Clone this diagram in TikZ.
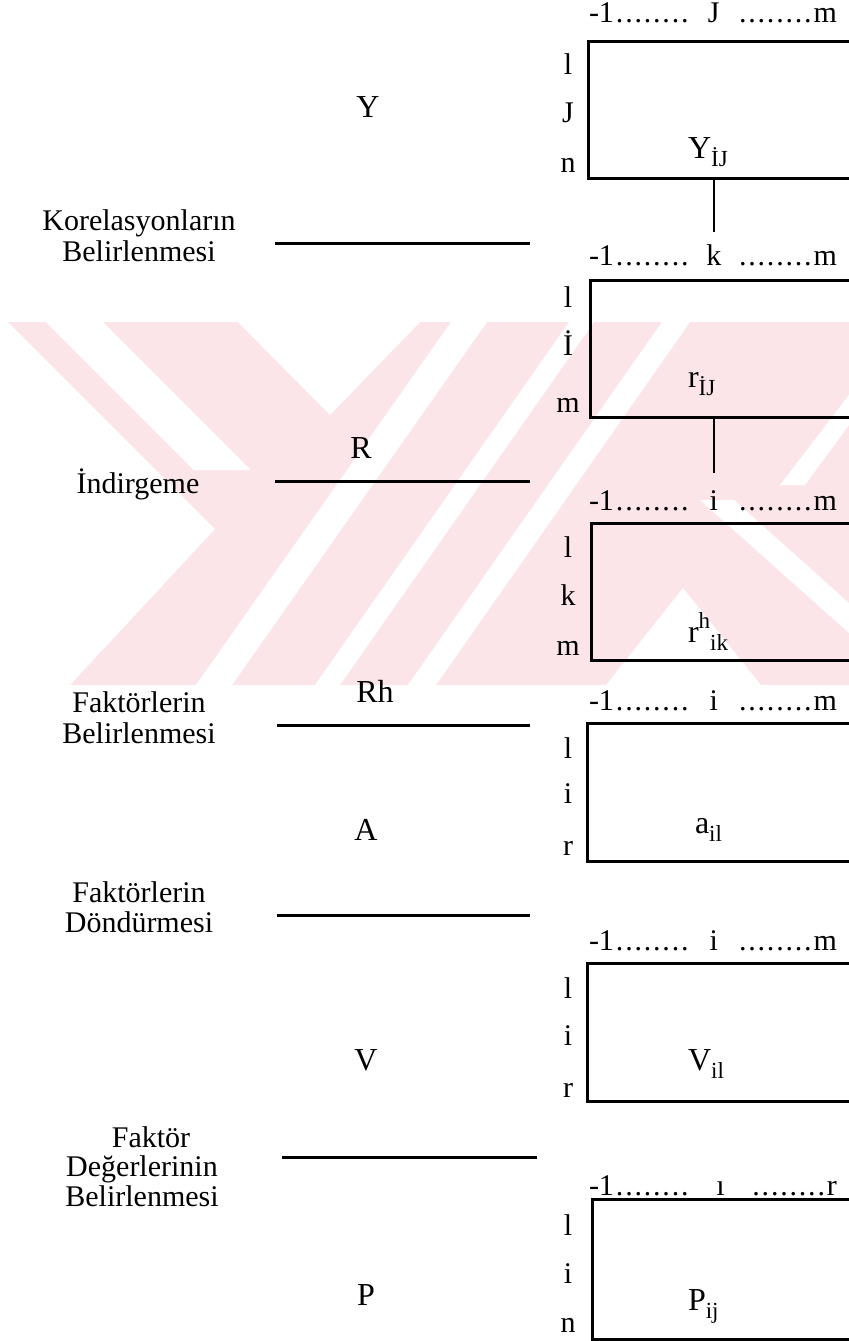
\documentclass[tikz,border=0pt]{standalone}
\usepackage{fontspec}
\setmainfont{Liberation Serif}
\definecolor{wm}{RGB}{252,229,233}
\newcommand\mysub[1]{\raisebox{-0.55ex}{\fontsize{11.5}{11.5}\selectfont #1}}
\newcommand\mysup[1]{\raisebox{0.95ex}{\fontsize{11.5}{11.5}\selectfont #1}}
\newcommand\mydd{.\kern0.9pt}
\newcommand\mydots{\mydd\mydd\mydd\mydd\mydd\mydd\mydd.}
\newcommand\hdrtxt[2]{\makebox[124pt]{-1\kern1pt\mydots\hfill #1\hfill\mydots\kern1pt#2}}
\begin{document}
\begin{tikzpicture}[x=0.5pt,y=-0.5pt,
  every node/.style={inner sep=0pt,outer sep=0pt,font=\fontsize{15}{16}\selectfont},
  mbox/.style={draw,line width=1.5pt,minimum width=140pt,minimum height=68.5pt,anchor=north west},
  hdr/.style={anchor=base},
  side/.style={anchor=base},
  inner/.style={anchor=base west,font=\fontsize{16}{16}\selectfont},
  var/.style={anchor=base,font=\fontsize{16}{16}\selectfont},
  lbl/.style={anchor=base},
  sepline/.style={line width=1.5pt},
  conn/.style={line width=1pt}]
\useasboundingbox (0,0) rectangle (849,1341);
\begin{scope}
\clip (0,0) rectangle (849,1341);
% watermark
\fill[wm] (0,322) rectangle (849,685);
\fill[white] (0,322) -- (8,322) -- (215,529) -- (70,685) -- (0,685) -- cycle;
\fill[white] (238,322) -- (420,322) -- (330,415) -- cycle;
\fill[white] (46,322) -- (103,322) -- (251,470) -- (194,470) -- cycle;
\fill[white] (196,685) -- (232,685) -- (487,322) -- (451,322) -- cycle;
\fill[white] (315,685) -- (340,685) -- (594,322) -- (569,322) -- cycle;
\fill[white] (408,685) -- (436,685) -- (690,322) -- (662,322) -- cycle;
\fill[white] (683,588) -- (606,685) -- (761,685) -- cycle;
\fill[white] (700,500) -- (734,500) -- (849,603) -- (849,633) -- cycle;
\fill[white] (780,485) -- (805,485) -- (849,425) -- (849,395) -- cycle;

% boxes
\node[mbox] (b1) at (588,41) {};
\node[mbox] (b2) at (590,280) {};
\node[mbox] (b3) at (591,523) {};
\node[mbox,minimum height=69pt] (b4) at (587,723) {};
\node[mbox,minimum height=69pt] (b5) at (587,963) {};
\node[mbox,minimum height=70pt] (b6) at (592,1199) {};

% headers
\node[hdr] (h1) at (713,22) {\hdrtxt{J}{m}};
\node[hdr] (h2) at (713,265) {\hdrtxt{k}{m}};
\node[hdr] (h3) at (713,510) {\hdrtxt{i}{m}};
\node[hdr] (h4) at (713,710) {\hdrtxt{i}{m}};
\node[hdr] (h5) at (713,950) {\hdrtxt{i}{m}};
\node[hdr] (h6) at (713,1195) {\hdrtxt{ı}{r}};

% side labels
\node[side] (s1a) at (568,74) {l};
\node[side] (s1b) at (568,122) {J};
\node[side] (s1c) at (568,172) {n};
\node[side] (s2a) at (568,307) {l};
\node[side] (s2b) at (568,355) {İ};
\node[side] (s2c) at (568,412) {m};
\node[side] (s3a) at (568,557) {l};
\node[side] (s3b) at (568,605) {k};
\node[side] (s3c) at (568,655) {m};
\node[side] (s4a) at (568,758) {l};
\node[side] (s4b) at (568,803) {i};
\node[side] (s4c) at (568,855) {r};
\node[side] (s5a) at (568,998) {l};
\node[side] (s5b) at (568,1045) {i};
\node[side] (s5c) at (568,1097) {r};
\node[side] (s6a) at (568,1235) {l};
\node[side] (s6b) at (568,1283) {i};
\node[side] (s6c) at (568,1332) {n};

% inner labels
\node[inner] (i1) at (688,158) {Y\mysub{İJ}};
\node[inner] (i2) at (688,387) {r\mysub{İJ}};
\node[inner] (i3) at (688,642) {r\mysup{h}\mysub{ik}};
\node[inner] (i4) at (695,833) {a\mysub{il}};
\node[inner] (i5) at (688,1070) {V\mysub{il}};
\node[inner] (i6) at (688,1310) {P\mysub{ij}};

% connectors
\coordinate (c1) at (714,232);
\coordinate (c2) at (714,473);
\draw[conn] (c1 |- b1.south) -- (c1);
\draw[conn] (c2 |- b2.south) -- (c2);

% left variable names
\node[var] (vY) at (368,117) {Y};
\node[var] (vR) at (361,458) {R};
\node[var] (vRh) at (375,702) {Rh};
\node[var] (vA) at (366,840) {A};
\node[var] (vV) at (366,1070) {V};
\node[var] (vP) at (366,1305) {P};

% step labels
\node[lbl] (k1a) at (139,230) {Korelasyonların};
\node[lbl] (k1b) at (139,261) {Belirlenmesi};
\node[lbl] (k2a) at (138,493) {İndirgeme};
\node[lbl] (k3a) at (139,712) {Faktörlerin};
\node[lbl] (k3b) at (139,743) {Belirlenmesi};
\node[lbl] (k4a) at (139,902) {Faktörlerin};
\node[lbl] (k4b) at (139,932) {Döndürmesi};
\node[lbl] (k5a) at (151,1147) {Faktör};
\node[lbl] (k5b) at (142,1176) {Değerlerinin};
\node[lbl] (k5c) at (142,1206) {Belirlenmesi};

% separator lines
\coordinate (l1a) at (275,243); \coordinate (l1b) at (530,243);
\coordinate (l2a) at (275,481); \coordinate (l2b) at (530,481);
\coordinate (l3a) at (277,725); \coordinate (l3b) at (530,725);
\coordinate (l4a) at (277,915); \coordinate (l4b) at (530,915);
\coordinate (l5a) at (282,1157); \coordinate (l5b) at (537,1157);
\draw[sepline] (l1a) -- (l1b);
\draw[sepline] (l2a) -- (l2b);
\draw[sepline] (l3a) -- (l3b);
\draw[sepline] (l4a) -- (l4b);
\draw[sepline] (l5a) -- (l5b);
\end{scope}
\end{tikzpicture}
\end{document}
